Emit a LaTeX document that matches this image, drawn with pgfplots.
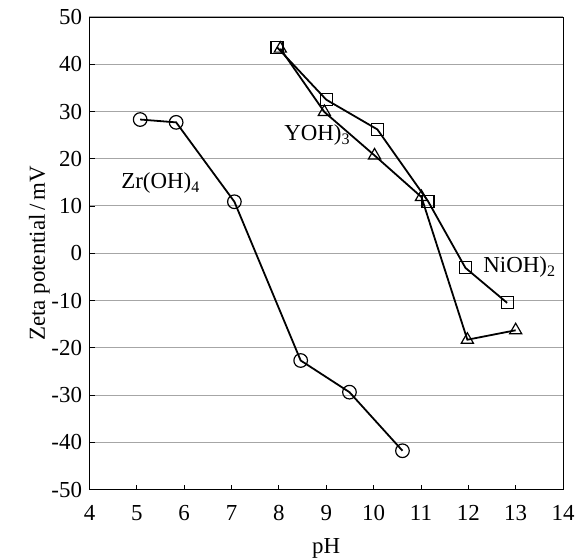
\documentclass[border=0pt]{standalone}
\usepackage{fontspec}
\setmainfont{Liberation Serif}
\usepackage{pgfplots}
\pgfplotsset{compat=1.18}
\begin{document}
\begin{tikzpicture}
\begin{axis}[
    scale only axis,
    width=473.5bp, height=472.5bp,
    xmin=4, xmax=14, ymin=-50, ymax=50,
    xtick distance=1, ytick distance=10,
    ymajorgrids,
    grid style={gray!70, line width=1pt},
    tick align=inside,
    xtick pos=bottom, ytick pos=left,
    major tick length=5bp,
    tick style={black, line width=0.9pt},
    axis line style={black, line width=0.9pt},
    font=\fontsize{23}{27}\selectfont,
    /pgf/number format/assume math mode=true,
    yticklabel style={xshift=-4bp},
    xticklabel style={yshift=-12bp},
    xlabel={pH},
    ylabel={Zeta potential\,/\,mV},
    xlabel style={at={(axis description cs:0.5,-0.125)}, anchor=center},
    ylabel style={at={(axis description cs:-0.106,0.5)}, anchor=center},
    every axis plot/.append style={black, line width=1.8pt},
]
\addplot[mark=o, mark size=6.8bp, mark options={fill=white, line width=1.2pt}]
  coordinates {(5.07,28.3) (5.83,27.7) (7.06,10.9) (8.46,-22.7) (9.49,-29.4) (10.61,-41.8)};
\addplot[mark=square, mark size=6bp, mark options={fill=white, line width=1.2pt}]
  coordinates {(7.96,43.6) (9.0,32.5) (10.08,26.2) (11.15,11.0) (11.94,-3.1) (12.82,-10.5)};
\addplot[mark=triangle, mark size=7bp, mark options={fill=white, line width=1.2pt}]
  coordinates {(8.03,43.3) (8.96,29.9) (10.02,20.7) (11.01,11.9) (11.98,-18.3) (13.0,-16.3)};
\draw[black, line width=2pt] (rel axis cs:0,1) -- (rel axis cs:0,0) -- (rel axis cs:1,0);
\node at (axis cs:8.81,25.0) {YOH)\textsubscript{3}};
\node at (axis cs:5.5,14.8) {Zr(OH)\textsubscript{4}};
\node at (axis cs:13.08,-3.0) {NiOH)\textsubscript{2}};
\end{axis}
\pgfresetboundingbox
\path[use as bounding box] (current axis.south west) ++(-89.5bp,-68.5bp) rectangle ++(586bp,558bp);
\end{tikzpicture}
\end{document}
